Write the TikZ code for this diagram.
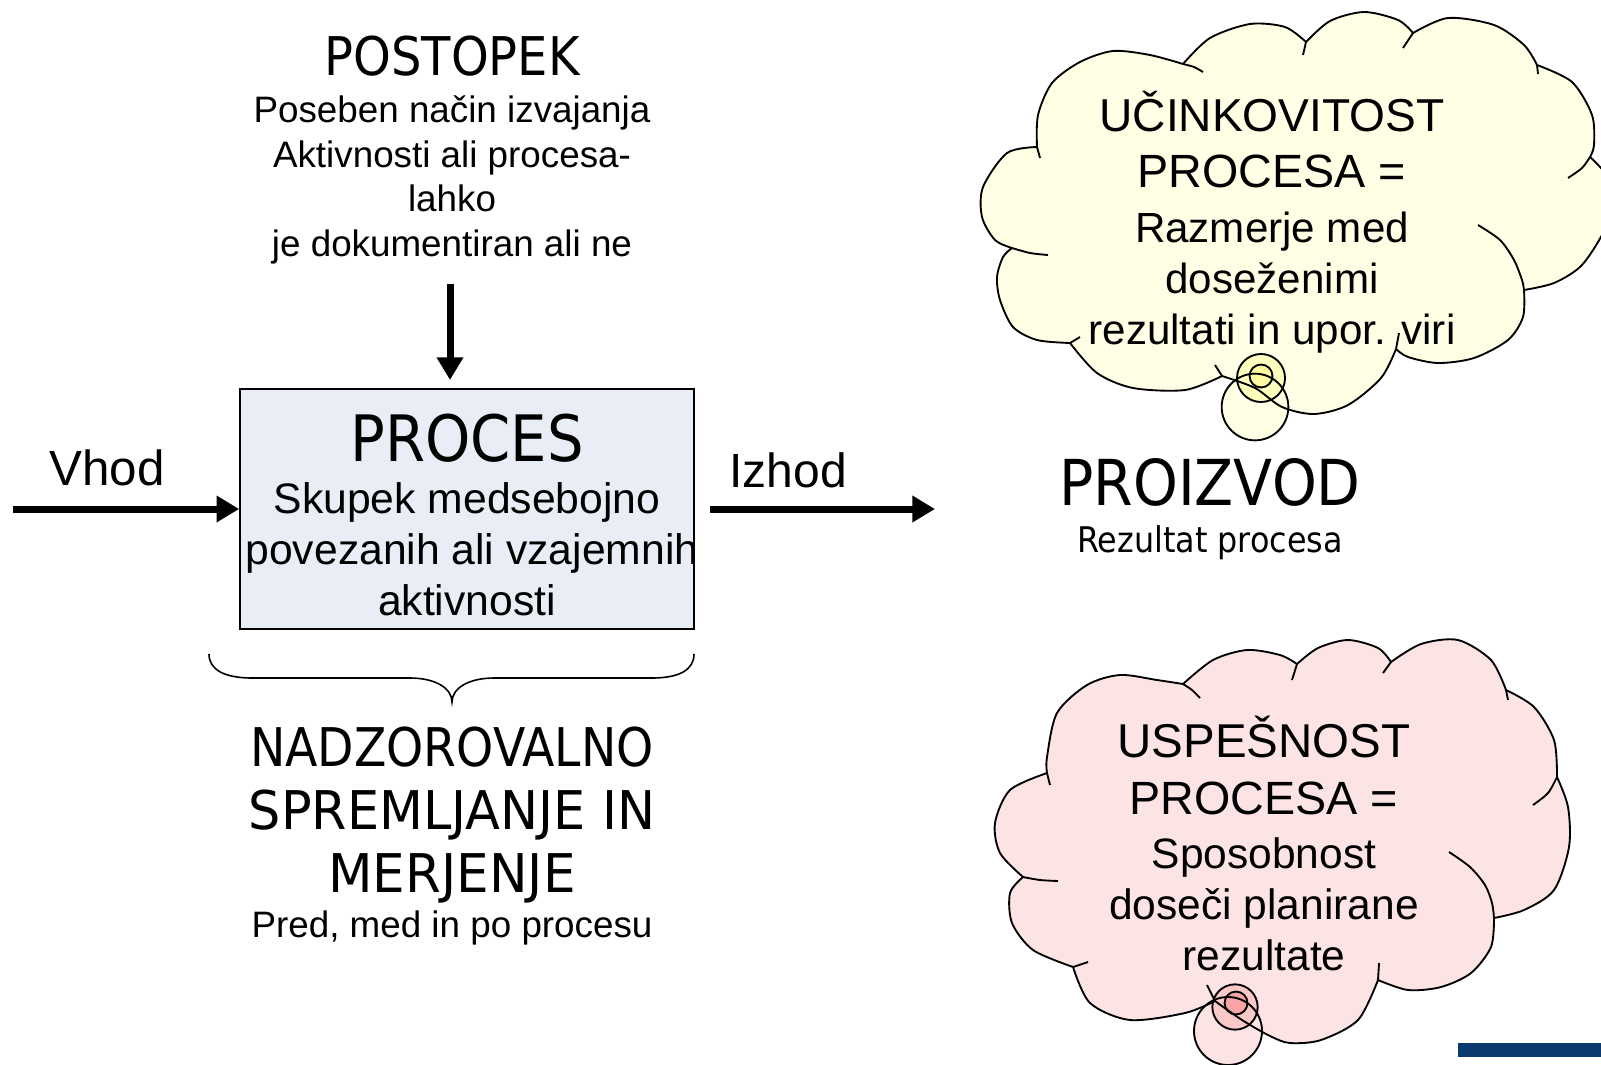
\documentclass[tikz,border=0pt]{standalone}
\usepackage{graphicx}
\usepackage{fontspec}
\setmainfont{Liberation Sans}
\newfontfamily\tah[FakeStretch=0.9]{DejaVu Sans}
\usetikzlibrary{arrows.meta}
\definecolor{boxfill}{RGB}{233,238,246}
\definecolor{tcfill}{RGB}{255,255,229}
\definecolor{tcmid}{RGB}{255,255,190}
\definecolor{tcsmall}{RGB}{255,250,160}
\definecolor{bcfill}{RGB}{253,228,228}
\definecolor{bcmid}{RGB}{251,200,200}
\definecolor{bcsmall}{RGB}{249,165,165}
\definecolor{navybar}{RGB}{11,59,110}
\newcommand\setfs[1]{\fontsize{#1pt}{#1pt}\selectfont}
\newcommand\topcloud[1]{\path[#1] plot[smooth] coordinates {(1012,248) (995,240) (982,217) (983,187) (1007,153) (1037,147)}
 -- plot[smooth] coordinates {(1037,147) (1038,115) (1052,83) (1080,62) (1113,51) (1150,55) (1183,64)}
 -- plot[smooth] coordinates {(1183,64) (1210,38) (1250,24) (1285,27) (1306,42)}
 -- plot[smooth] coordinates {(1306,42) (1330,21) (1364,12) (1398,20) (1413,33)}
 -- plot[smooth] coordinates {(1413,33) (1448,18) (1494,25) (1524,45) (1537,65)}
 -- plot[smooth] coordinates {(1537,65) (1572,82) (1592,115) (1594,145) (1590,157)}
 -- plot[smooth] coordinates {(1590,157) (1606,175) (1614,205) (1602,235) (1581,266) (1554,283) (1524,290)}
 -- plot[smooth] coordinates {(1524,290) (1523,317) (1508,340) (1474,358) (1438,363) (1408,357) (1396,349)}
 -- plot[smooth] coordinates {(1396,349) (1381,378) (1348,405) (1314,414) (1282,407) (1255,388) (1222,376)}
 -- plot[smooth] coordinates {(1222,376) (1185,390) (1133,388) (1097,373) (1070,343)}
 -- plot[smooth] coordinates {(1070,343) (1037,340) (1013,327) (1000,300) (997,277) (1003,257) (1012,248)}
 -- cycle;}
\newcommand\botcloud[1]{\path[#1] plot[smooth] coordinates {(1023,877) (1000,853) (995,823) (1010,790) (1047,773)}
 -- plot[smooth] coordinates {(1047,773) (1047,757) (1057,713) (1087,685) (1120,675) (1157,680) (1183,684)}
 -- plot[smooth] coordinates {(1183,684) (1213,660) (1247,650) (1280,655) (1297,664)}
 -- plot[smooth] coordinates {(1297,664) (1318,648) (1348,640) (1378,648) (1391,662)}
 -- plot[smooth] coordinates {(1391,662) (1421,644) (1458,640) (1491,660) (1506,690)}
 -- plot[smooth] coordinates {(1506,690) (1534,707) (1554,740) (1557,777)}
 -- plot[smooth] coordinates {(1557,777) (1568,807) (1569,847) (1554,890) (1524,910) (1494,918)}
 -- plot[smooth] coordinates {(1494,918) (1491,947) (1471,973) (1441,987) (1408,990) (1378,980)}
 -- plot[smooth] coordinates {(1378,980) (1358,1020) (1321,1040) (1290,1043) (1270,1036) (1242,1020) (1215,1001)}
 -- plot[smooth] coordinates {(1215,1001) (1185,1013) (1130,1020) (1090,1003) (1073,967)}
 -- plot[smooth] coordinates {(1073,967) (1033,950) (1012,923) (1010,893) (1023,877)}
 -- cycle;}
\begin{document}
\begin{tikzpicture}[x=0.75pt,y=-0.75pt,
  txt/.style={inner sep=0pt, anchor=base},
  fat/.style={line width=5.25pt, -{Triangle[length=17pt,width=19pt]}},
  cloudline/.style={line width=1.4pt, line join=round},
  bubline/.style={line width=1.4pt},
  procbox/.style={draw, line width=1.2pt, fill=boxfill, minimum width=340.5pt, minimum height=180pt, inner sep=0pt}]
\useasboundingbox (0,0) rectangle (1601,1064);
\fill[white] (0,0) rectangle (1601,1064);

% ---- left part ----
\node[txt, font={\tah\setfs{40}}] (postopek) at (452,75) {POSTOPEK};
\node[txt, font={\setfs{27.6}}] (p1) at (452,122) {Poseben način izvajanja};
\node[txt, font={\setfs{27.6}}] (p2) at (452,167) {Aktivnosti ali procesa-};
\node[txt, font={\setfs{27.6}}] (p3) at (452,211) {lahko};
\node[txt, font={\setfs{27.6}}] (p4) at (452,256) {je dokumentiran ali ne};

\node[procbox] (proc) at (467,509) {};
\node[txt, font={\tah\setfs{48}}] (proct) at (467,461) {PROCES};
\node[txt, font={\setfs{32}}] (b1) at (467,513) {Skupek medsebojno};
\node[txt, font={\setfs{32}}] (b2) at (472,564) {povezanih ali vzajemnih};
\node[txt, font={\setfs{32}}] (b3) at (467,615) {aktivnosti};

\node[txt, font={\setfs{37}}] (vhod) at (107,485) {Vhod};
\node[txt, font={\setfs{36}}] (izhod) at (788,487) {Izhod};

\coordinate (inS) at (13,509);
\coordinate (dS) at (450,284);
\coordinate (dE) at (450,380);
\coordinate (oS) at (710,509);
\coordinate (oE) at (935,509);
\draw[fat] (inS) -- (proc.west);
\draw[fat] (dS) -- (dE);
\draw[fat] (oS) -- (oE);

\draw[line width=1.2pt] (209,654) .. controls (209,670) and (225,678) .. (252,678) -- (410,678)
  .. controls (435,678) and (452,688) .. (452,702)
  .. controls (452,688) and (469,678) .. (494,678) -- (652,678)
  .. controls (679,678) and (694,670) .. (694,654);

\node[txt, font={\tah\setfs{40}}] (n1) at (452,766) {\scalebox{0.985}[1]{NADZOROVALNO}};
\node[txt, font={\tah\setfs{40}}] (n2) at (452,829) {\scalebox{1.06}[1]{SPREMLJANJE IN}};
\node[txt, font={\tah\setfs{40}}] (n3) at (452,892) {\scalebox{1.075}[1]{MERJENJE}};
\node[txt, font={\setfs{27.6}}] (n4) at (452,937) {Pred, med in po procesu};

\node[txt, font={\tah\setfs{47.5}}] (proizvod) at (1210,505) {PROIZVOD};
\node[txt, font={\tah\setfs{26.5}}] (rezp) at (1210,552) {Rezultat procesa};

% ---- top cloud ----
\topcloud{fill=tcfill}
\fill[tcfill] (1255,407) circle[radius=25pt];
\fill[tcmid] (1261,378) circle[radius=18pt];
\fill[tcsmall] (1261,376) circle[radius=8.6pt];
\draw[bubline] (1255,407) circle[radius=25pt];
\draw[bubline] (1261,378) circle[radius=18pt];
\draw[bubline] (1261,376) circle[radius=8.6pt];
\topcloud{draw, cloudline}
\draw[cloudline] (1037,147) -- (1040,158);
\draw[cloudline] plot[smooth] coordinates {(1183,64) (1194,67) (1203,72)};
\draw[cloudline] (1306,42) -- (1303,55);
\draw[cloudline] (1413,33) -- (1403,48);
\draw[cloudline] (1537,65) -- (1538,74);
\draw[cloudline] plot[smooth] coordinates {(1590,157) (1582,168) (1568,178)};
\draw[cloudline] plot[smooth] coordinates {(1478,225) (1500,240) (1514,260) (1522,280) (1524,290)};
\draw[cloudline] (1396,349) -- (1399,333);
\draw[cloudline] (1222,376) -- (1215,365);
\draw[cloudline] (1070,343) -- (1080,337);
\draw[cloudline] plot[smooth] coordinates {(1012,248) (1030,253) (1048,255)};

\node[txt, font={\setfs{34.6}}] (u1) at (1272,131) {UČINKOVITOST};
\node[txt, font={\setfs{35}}] (u2) at (1272,187) {PROCESA =};
\node[txt, font={\setfs{31.6}}] (u3) at (1272,242) {Razmerje med};
\node[txt, font={\setfs{31.6}}] (u4) at (1272,293) {doseženimi};
\node[txt, font={\setfs{31.6}}] (u5) at (1272,344) {rezultati in upor. viri};

% ---- bottom cloud ----
\botcloud{fill=bcfill}
\fill[bcfill] (1228,1031) circle[radius=25.5pt];
\fill[bcmid] (1235,1007) circle[radius=17pt];
\fill[bcsmall] (1236,1003) circle[radius=8.6pt];
\draw[bubline] (1228,1031) circle[radius=25.5pt];
\draw[bubline] (1235,1007) circle[radius=17pt];
\draw[bubline] (1236,1003) circle[radius=8.6pt];
\botcloud{draw, cloudline}
\draw[cloudline] (1047,773) -- (1050,785);
\draw[cloudline] plot[smooth] coordinates {(1183,684) (1192,690) (1200,698)};
\draw[cloudline] (1297,664) -- (1292,680);
\draw[cloudline] (1391,662) -- (1383,673);
\draw[cloudline] (1506,690) -- (1508,700);
\draw[cloudline] plot[smooth] coordinates {(1557,777) (1548,793) (1533,805)};
\draw[cloudline] plot[smooth] coordinates {(1449,852) (1470,867) (1485,885) (1492,903) (1494,918)};
\draw[cloudline] (1378,980) -- (1379,963);
\draw[cloudline] (1215,1001) -- (1207,985);
\draw[cloudline] (1073,967) -- (1088,962);
\draw[cloudline] plot[smooth] coordinates {(1023,877) (1040,880) (1058,881)};

\node[txt, font={\setfs{35.6}}] (s1) at (1264,757) {USPEŠNOST};
\node[txt, font={\setfs{35}}] (s2) at (1264,814) {PROCESA =};
\node[txt, font={\setfs{31.9}}] (s3) at (1264,868) {Sposobnost};
\node[txt, font={\setfs{31.9}}] (s4) at (1264,919) {doseči planirane};
\node[txt, font={\setfs{31.9}}] (s5) at (1264,970) {rezultate};

\fill[navybar] (1458,1043) rectangle (1601,1057);
\end{tikzpicture}
\end{document}
